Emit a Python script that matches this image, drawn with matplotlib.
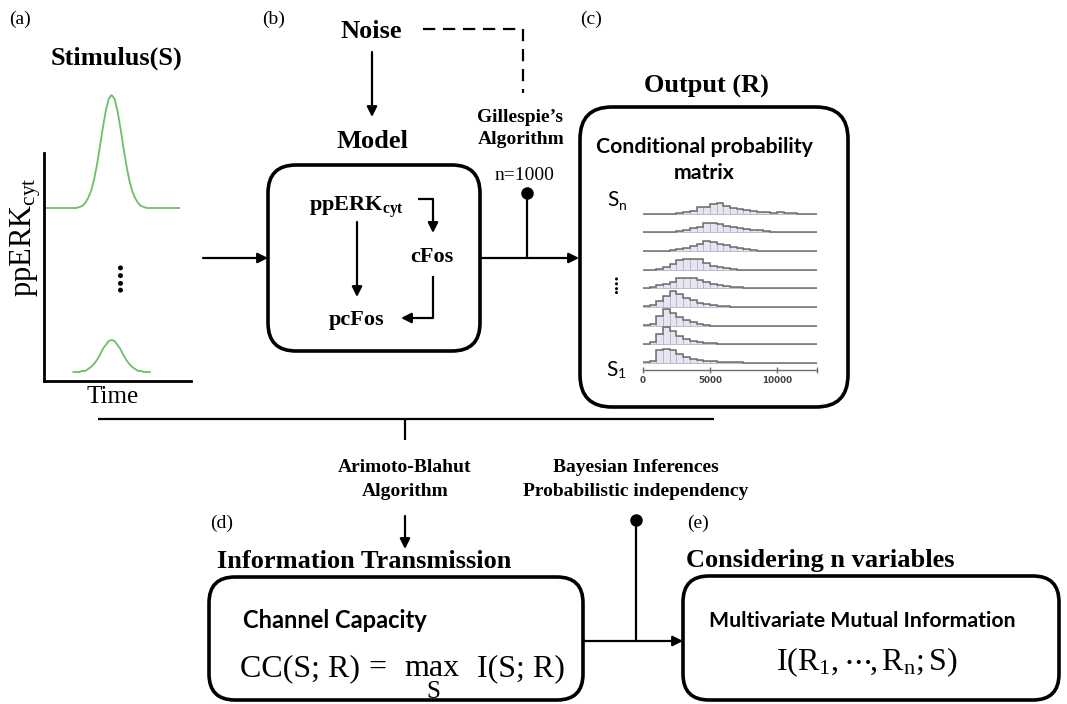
import matplotlib
matplotlib.use('Agg')
import matplotlib.pyplot as plt
import numpy as np
from matplotlib.patches import FancyBboxPatch

plt.rcParams['mathtext.fontset'] = 'custom'
plt.rcParams['mathtext.rm'] = 'Liberation Serif'
plt.rcParams['mathtext.it'] = 'Liberation Serif:italic'
plt.rcParams['mathtext.bf'] = 'Liberation Serif:bold'

SERIF = 'Liberation Serif'
SANS = 'Lato'

# ---------------- data ----------------
# stimulus pulses (a.u.)
stim_time_high = [1, 20, 22, 24, 26, 28, 30, 32, 34, 36, 38, 40, 42, 44, 46,
                  48, 50, 52, 54, 56, 58, 60, 62, 64, 66, 68, 70, 72, 92]
stim_high = [173, 173, 173, 174, 175, 178, 183, 190, 201, 216, 234, 253, 270, 282, 286,
             282, 270, 253, 234, 216, 201, 190, 183, 178, 175, 174, 173, 173, 173]
stim_time_low = [20, 22, 24, 26, 28, 30, 32, 34, 36, 38, 40, 42, 44, 46,
                 48, 50, 52, 54, 56, 58, 60, 62, 64, 66, 68, 70, 72]
stim_low = [9, 9, 9, 10, 10, 12, 14, 17, 21, 26, 32, 36, 40, 41,
            40, 36, 32, 26, 21, 17, 14, 12, 10, 10, 9, 9, 9]

# conditional probability histograms (bins of 500 from 0 to 13000), S1 ... Sn
hist_bin_width = 500
hist_max = 13000
hist_S1 = [3, 6, 40, 42, 38, 26, 17, 12, 9, 7, 5, 3, 2, 3, 2, 0, 0, 0, 0, 0, 0, 0, 0, 0, 0, 0]
hist_S2 = [2, 6, 30, 52, 40, 25, 15, 10, 7, 5, 3, 1, 0, 0, 0, 0, 0, 0, 0, 0, 0, 0, 0, 0, 0, 0]
hist_S3 = [2, 5, 28, 50, 38, 26, 16, 10, 6, 2, 0, 0, 0, 0, 0, 0, 0, 0, 0, 0, 0, 0, 0, 0, 0, 0]
hist_S4 = [3, 6, 17, 34, 47, 38, 28, 20, 13, 8, 6, 4, 2, 1, 0, 0, 0, 0, 0, 0, 0, 0, 0, 0, 0, 0]
hist_S5 = [2, 4, 9, 14, 20, 31, 32, 30, 25, 18, 13, 10, 8, 5, 4, 2, 0, 0, 0, 0, 2, 0, 2, 0, 0, 0]
hist_S6 = [0, 0, 2, 8, 18, 30, 32, 32, 31, 20, 11, 8, 6, 3, 0, 0, 0, 0, 0, 0, 0, 0, 0, 0, 0, 0]
hist_S7 = [0, 0, 0, 1, 3, 6, 10, 14, 22, 29, 28, 22, 17, 12, 9, 6, 4, 1, 0, 0, 0, 0, 0, 0, 0, 0]
hist_S8 = [0, 0, 0, 0, 2, 4, 7, 12, 17, 27, 29, 26, 20, 17, 12, 11, 8, 6, 3, 1, 0, 0, 0, 0, 0, 0]
hist_Sn = [0, 0, 0, 0, 0, 3, 5, 9, 21, 20, 30, 31, 22, 18, 13, 10, 7, 5, 4, 3, 4, 3, 1, 0, 0, 0]
hist_rows = [hist_S1, hist_S2, hist_S3, hist_S4, hist_S5, hist_S6, hist_S7, hist_S8, hist_Sn]
hist_ticks = [0, 5000, 10000, 13000]
hist_ticklabels = ['0', '5000', '10000', '']

# ---------------- figure ----------------
W, H = 1067, 704
fig = plt.figure(figsize=(W / 100, H / 100), dpi=100)
ax = fig.add_axes([0, 0, 1, 1])
ax.set_xlim(0, W)
ax.set_ylim(H, 0)
ax.axis('off')

LW_BOX = 2.6
LW_LINE = 1.6


def box(x0, y0, x1, y1, r=26):
    p = FancyBboxPatch((x0, y0), x1 - x0, y1 - y0,
                       boxstyle=f"round,pad=0,rounding_size={r}",
                       fc='white', ec='black', lw=LW_BOX, zorder=2)
    ax.add_patch(p)


def arrow(x0, y0, x1, y1):
    ax.annotate('', xy=(x1, y1), xytext=(x0, y0),
                arrowprops=dict(arrowstyle='-|>', lw=LW_LINE, color='black',
                                mutation_scale=15, shrinkA=0, shrinkB=0),
                zorder=4)


def line(xs, ys, **kw):
    ax.plot(xs, ys, color='black', lw=LW_LINE, solid_capstyle='butt', zorder=3, **kw)


def stext(x, y, s, size=14, bold=False, ha='center', va='center', family=SERIF, **kw):
    ax.text(x, y, s, fontsize=size, fontweight='bold' if bold else 'normal',
            ha=ha, va=va, family=family, zorder=5, **kw)


# ---------------- panel (a) ----------------
stext(20, 19, '(a)', size=14)
stext(116, 58, 'Stimulus(S)', size=19, bold=True)
stext(113, 397, 'Time', size=18)
stext(26, 237, r'ppERK$_{\mathrm{cyt}}$', size=22, rotation=90)

axa = fig.add_axes([44 / W, (H - 381) / H, 147 / W, 300 / H])
axa.set_facecolor('none')
axa.set_xlim(0, 100)
axa.set_ylim(0, 300)
axa.plot(stim_time_high, stim_high, color='#6cbf6a', lw=1.3, clip_on=False)
axa.plot(stim_time_low, stim_low, color='#6cbf6a', lw=1.3, clip_on=False)
for s in ['top', 'right']:
    axa.spines[s].set_visible(False)
axa.spines['left'].set_bounds(0, 228)
axa.spines['left'].set_linewidth(2.0)
axa.spines['bottom'].set_linewidth(2.0)
axa.set_xticks([])
axa.set_yticks([])
stext(115, 276, '....', size=22, bold=True, rotation=90)

arrow(203, 258, 268, 258)

# ---------------- panel (b) ----------------
stext(274, 19, '(b)', size=14)
stext(371, 31, 'Noise', size=19, bold=True)
arrow(372, 52, 372, 117)
ax.plot([423, 523, 523], [29, 29, 93], color='black', lw=LW_LINE,
        dashes=(5.5, 3.5), zorder=3)
stext(372, 142, 'Model', size=19, bold=True)
box(268, 165, 480, 351, r=28)
stext(356, 207, r'ppERK$_{\mathbf{cyt}}$', size=16, bold=True)
arrow(357, 222, 357, 297)
line([418, 433], [199, 199])
arrow(433, 199, 433, 233)
stext(432, 257, 'cFos', size=16, bold=True)
line([433, 433], [276, 318])
arrow(433, 318, 401, 318)
stext(357, 320, 'pcFos', size=16, bold=True)

arrow(480, 258, 579, 258)
line([527, 527], [258, 193])
ax.plot([527], [193], 'o', color='black', ms=8, zorder=4)
stext(520, 117, 'Gillespie\u2019s', size=14, bold=True)
stext(521, 140, 'Algorithm', size=14, bold=True)
stext(525, 175, 'n=1000', size=14)

# ---------------- panel (c) ----------------
stext(591, 19, '(c)', size=14)
stext(706, 86, 'Output (R)', size=19, bold=True)
box(580, 107, 848, 407, r=32)
stext(704, 147, 'Conditional probability', size=15.3, bold=True, family=SANS)
stext(704, 173, 'matrix', size=15.3, bold=True, family=SANS)

row_gap = 56
row_base0 = 21
axc = fig.add_axes([643 / W, (H - 370) / H, 174 / W, 176.7 / H])
axc.set_facecolor('none')
axc.set_xlim(0, hist_max)
axc.set_ylim(0, 530)
edges = np.arange(0, hist_max + 1, hist_bin_width)
centers = edges[:-1] + hist_bin_width / 2
for k, vals in enumerate(hist_rows):
    base = row_base0 + row_gap * k
    v = np.asarray(vals, dtype=float)
    axc.bar(centers, v, width=hist_bin_width, bottom=base, color='#e6e6f2',
            edgecolor='#b4b4c4', lw=0.6, zorder=2 + (9 - k) * 0.01)
    axc.stairs(v + base, edges, baseline=None, color='#6e6e6e', lw=1.1,
               zorder=3 + (9 - k) * 0.01)
for s in ['top', 'right', 'left']:
    axc.spines[s].set_visible(False)
axc.spines['bottom'].set_color('#6e6e6e')
axc.spines['bottom'].set_linewidth(1.0)
axc.set_yticks([])
axc.set_xticks(hist_ticks)
axc.set_xticklabels(hist_ticklabels)
axc.tick_params(axis='x', direction='inout', length=5, width=1.0, color='#6e6e6e',
                labelsize=6.3, labelcolor='#444444', pad=2)
for t in axc.get_xticklabels():
    t.set_fontweight('bold')
    t.set_family('DejaVu Sans')

stext(613, 200, 'S', size=15, family=SANS)
stext(623, 206, 'n', size=10, family=SANS)
stext(612, 370, 'S', size=15, family=SANS)
stext(622, 374, '1', size=10, family=SANS)
stext(614, 284, '....', size=14, bold=True, rotation=90)

# ---------------- connectors to lower panels ----------------
line([98, 714], [419, 419])
line([405, 405], [419, 440])
stext(405, 467, 'Arimoto-Blahut', size=14, bold=True)
stext(405, 492, 'Algorithm', size=14, bold=True)
arrow(405, 516, 405, 549)
stext(636, 467, 'Bayesian Inferences', size=14, bold=True)
stext(636, 492, 'Probabilistic independency', size=14, bold=True)

# ---------------- panel (d) ----------------
stext(210, 523, '(d)', size=14, ha='left')
stext(217, 561, 'Information Transmission', size=19, bold=True, ha='left')
box(209, 577, 583, 700, r=26)
stext(243, 620, 'Channel Capacity', size=17, bold=True, ha='left', family=SANS)
FS = 23
stext(240, 676, 'CC(S; R)', size=FS, ha='left', va='baseline')
stext(368, 676, '=', size=FS, ha='left', va='baseline')
stext(404, 676, 'max', size=FS, ha='left', va='baseline')
stext(477, 676, 'I(S; R)', size=FS, ha='left', va='baseline')
stext(433, 692, 'S', size=18, ha='center', va='center')

arrow(583, 641, 683, 641)
line([636, 636], [641, 520])
ax.plot([636], [520], 'o', color='black', ms=8, zorder=4)

# ---------------- panel (e) ----------------
stext(687, 523, '(e)', size=14, ha='left')
stext(686, 561, 'Considering n variables', size=19, bold=True, ha='left')
box(683, 576, 1059, 700, r=26)
stext(862, 621, 'Multivariate Mutual Information', size=15.3, bold=True, family=SANS)
stext(867, 670, r'I$(\mathrm{R}_{1},\cdots\!,\mathrm{R}_{\mathrm{n}};\mathrm{S})$', size=FS,
      va='baseline')

fig.savefig('out.png', dpi=100)
